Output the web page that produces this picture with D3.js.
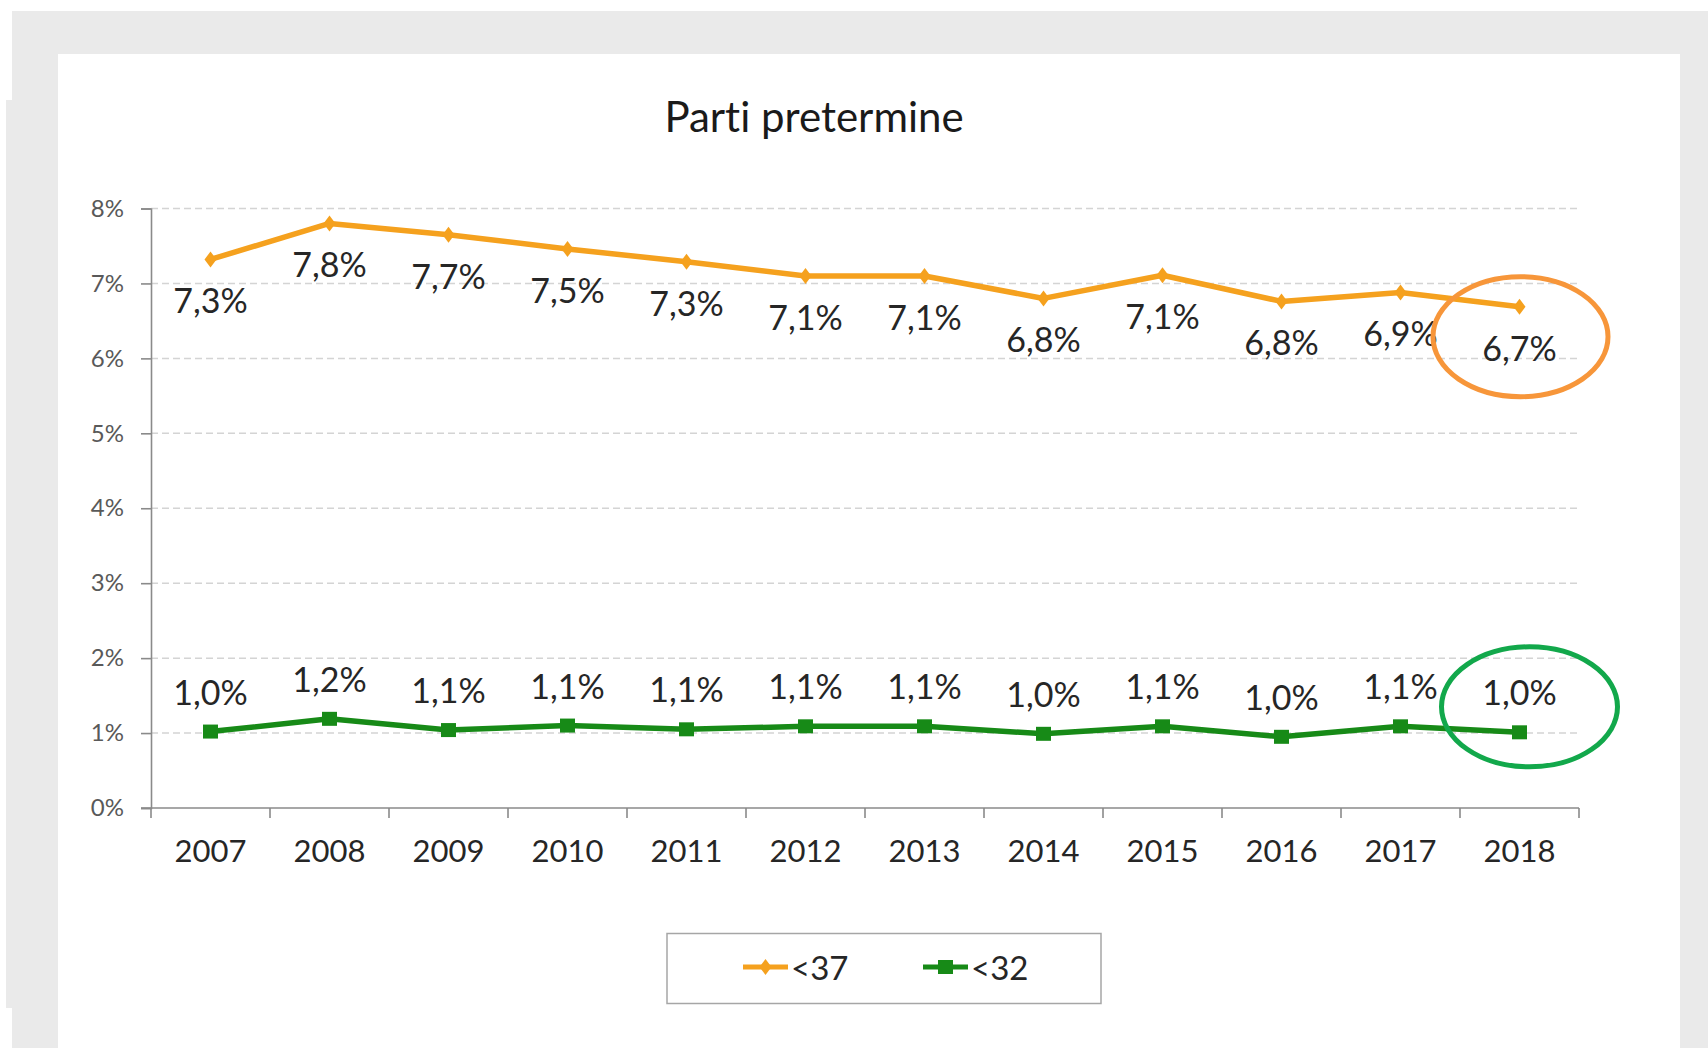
<!DOCTYPE html>
<html>
<head>
<meta charset="utf-8">
<script src="https://cdn.jsdelivr.net/npm/d3@7"></script>
<style>
  html, body { margin: 0; padding: 0; background: #ffffff; }
  svg { display: block; }
  text { font-variant-ligatures: none; font-feature-settings: "liga" 0, "clig" 0; }
</style>
</head>
<body>
<svg id="chart" width="1708" height="1048"></svg>
<script>
// ---- data ----
const years = ["2007","2008","2009","2010","2011","2012","2013","2014","2015","2016","2017","2018"];
const lt37 = [7.32, 7.80, 7.65, 7.46, 7.29, 7.10, 7.10, 6.80, 7.11, 6.76, 6.88, 6.69];
const lt32 = [1.02, 1.19, 1.04, 1.10, 1.05, 1.09, 1.09, 0.99, 1.09, 0.95, 1.09, 1.01];
const labels37 = ["7,3%","7,8%","7,7%","7,5%","7,3%","7,1%","7,1%","6,8%","7,1%","6,8%","6,9%","6,7%"];
const labels32 = ["1,0%","1,2%","1,1%","1,1%","1,1%","1,1%","1,1%","1,0%","1,1%","1,0%","1,1%","1,0%"];
const yTicks = [0, 1, 2, 3, 4, 5, 6, 7, 8];
const seriesNames = ["<37", "<32"];
const title = "Parti pretermine";

// ---- styles ----
const FONT = "Lato, 'Open Sans', sans-serif";
const C37 = "#f5a11e", C32 = "#178a17";
const svg = d3.select("#chart");

// background frame
svg.append("rect").attr("x", 12).attr("y", 11).attr("width", 1696).attr("height", 1037).attr("fill", "#eaeaea");
svg.append("rect").attr("x", 6).attr("y", 100).attr("width", 10).attr("height", 908).attr("fill", "#eaeaea");
svg.append("rect").attr("x", 58).attr("y", 54).attr("width", 1622).attr("height", 994).attr("fill", "#ffffff");

// scales
const x = d3.scaleBand().domain(years).range([151, 1579]).paddingInner(0).paddingOuter(0);
const cx = d => x(d) + x.bandwidth() / 2;
const y = d3.scaleLinear().domain([0, 8]).range([808, 208.5]);

// gridlines
svg.append("g").selectAll("line").data(yTicks.filter(t => t > 0)).join("line")
  .attr("x1", 151).attr("x2", 1579)
  .attr("y1", d => y(d)).attr("y2", d => y(d))
  .attr("stroke", "#d4d4d4").attr("stroke-width", 1.5).attr("stroke-dasharray", "7,4");

// y axis
const yAxis = svg.append("g").attr("transform", "translate(151,0)")
  .call(d3.axisLeft(y).tickValues(yTicks).tickSize(10).tickPadding(17).tickFormat(d => d + "%"));
yAxis.select(".domain").attr("stroke", "#8a8a8a").attr("stroke-width", 1.6);
yAxis.selectAll(".tick line").attr("stroke", "#8a8a8a").attr("stroke-width", 1.6);
yAxis.selectAll(".tick text").attr("fill", "#595959").style("font-family", FONT).style("font-size", "24px");

// x axis labels
const xAxis = svg.append("g").attr("transform", "translate(0,808)")
  .call(d3.axisBottom(x).tickSize(0).tickPadding(32));
xAxis.select(".domain").attr("stroke", "#8a8a8a").attr("stroke-width", 1.6).attr("d", "M141,0H1579");
xAxis.selectAll(".tick text").attr("fill", "#262626").style("font-family", FONT).style("font-size", "31px");
// boundary ticks
const bounds = years.map(d => x(d)).concat([x(years[years.length - 1]) + x.bandwidth()]);
svg.append("g").selectAll("line").data(bounds).join("line")
  .attr("x1", d => d).attr("x2", d => d).attr("y1", 808).attr("y2", 818)
  .attr("stroke", "#8a8a8a").attr("stroke-width", 1.6);

// lines
const line = d3.line().x((d, i) => cx(years[i])).y(d => y(d));
svg.append("path").datum(lt37).attr("d", line).attr("fill", "none")
  .attr("stroke", C37).attr("stroke-width", 5.5).attr("stroke-linejoin", "round");
svg.append("path").datum(lt32).attr("d", line).attr("fill", "none")
  .attr("stroke", C32).attr("stroke-width", 5.5).attr("stroke-linejoin", "round");

// markers
const diamond = "M0,-8L6,0L0,8L-6,0Z";
svg.append("g").selectAll("path").data(lt37).join("path")
  .attr("d", diamond).attr("fill", C37)
  .attr("transform", (d, i) => `translate(${cx(years[i])},${y(d)})`);
svg.append("g").selectAll("rect").data(lt32).join("rect")
  .attr("x", (d, i) => cx(years[i]) - 7.5).attr("y", d => y(d) - 7)
  .attr("width", 15).attr("height", 14).attr("fill", C32);

// data labels
svg.append("g").selectAll("text").data(lt37).join("text")
  .attr("x", (d, i) => cx(years[i])).attr("y", d => y(d) + 42 + 12)
  .attr("text-anchor", "middle").attr("fill", "#262626")
  .style("font-family", FONT).style("font-size", "34px")
  .text((d, i) => labels37[i]);
svg.append("g").selectAll("text").data(lt32).join("text")
  .attr("x", (d, i) => cx(years[i])).attr("y", d => y(d) - 39 + 12)
  .attr("text-anchor", "middle").attr("fill", "#262626")
  .style("font-family", FONT).style("font-size", "34px")
  .text((d, i) => labels32[i]);

// title
svg.append("text").attr("x", 814).attr("y", 132).attr("text-anchor", "middle")
  .attr("fill", "#1a1a1a").style("font-family", FONT).style("font-size", "42px").text(title);

// highlight ellipses around last point
const last = years.length - 1;
svg.append("ellipse").attr("cx", cx(years[last]) + 1).attr("cy", y(lt37[last]) + 30)
  .attr("rx", 87.5).attr("ry", 60).attr("fill", "none").attr("stroke", "#f7963a").attr("stroke-width", 5);
svg.append("ellipse").attr("cx", cx(years[last]) + 10).attr("cy", y(lt32[last]) - 25.5)
  .attr("rx", 88).attr("ry", 60).attr("fill", "none").attr("stroke", "#12a84b").attr("stroke-width", 5);

// legend
const lg = svg.append("g");
lg.append("rect").attr("x", 667).attr("y", 933.5).attr("width", 434).attr("height", 70)
  .attr("fill", "#ffffff").attr("stroke", "#a6a6a6").attr("stroke-width", 1.5);
const legendItems = [
  { name: seriesNames[0], color: C37, x0: 743, marker: "diamond" },
  { name: seriesNames[1], color: C32, x0: 923, marker: "square" }
];
legendItems.forEach(it => {
  lg.append("line").attr("x1", it.x0).attr("x2", it.x0 + 45).attr("y1", 967).attr("y2", 967)
    .attr("stroke", it.color).attr("stroke-width", 5);
  if (it.marker === "diamond") {
    lg.append("path").attr("d", diamond).attr("fill", it.color)
      .attr("transform", `translate(${it.x0 + 22.5},967)`);
  } else {
    lg.append("rect").attr("x", it.x0 + 15).attr("y", 960).attr("width", 15).attr("height", 14).attr("fill", it.color);
  }
  lg.append("text").attr("x", it.x0 + 48).attr("y", 980).attr("fill", "#262626")
    .style("font-family", FONT).style("font-size", "33px").text(it.name);
});
</script>
</body>
</html>
